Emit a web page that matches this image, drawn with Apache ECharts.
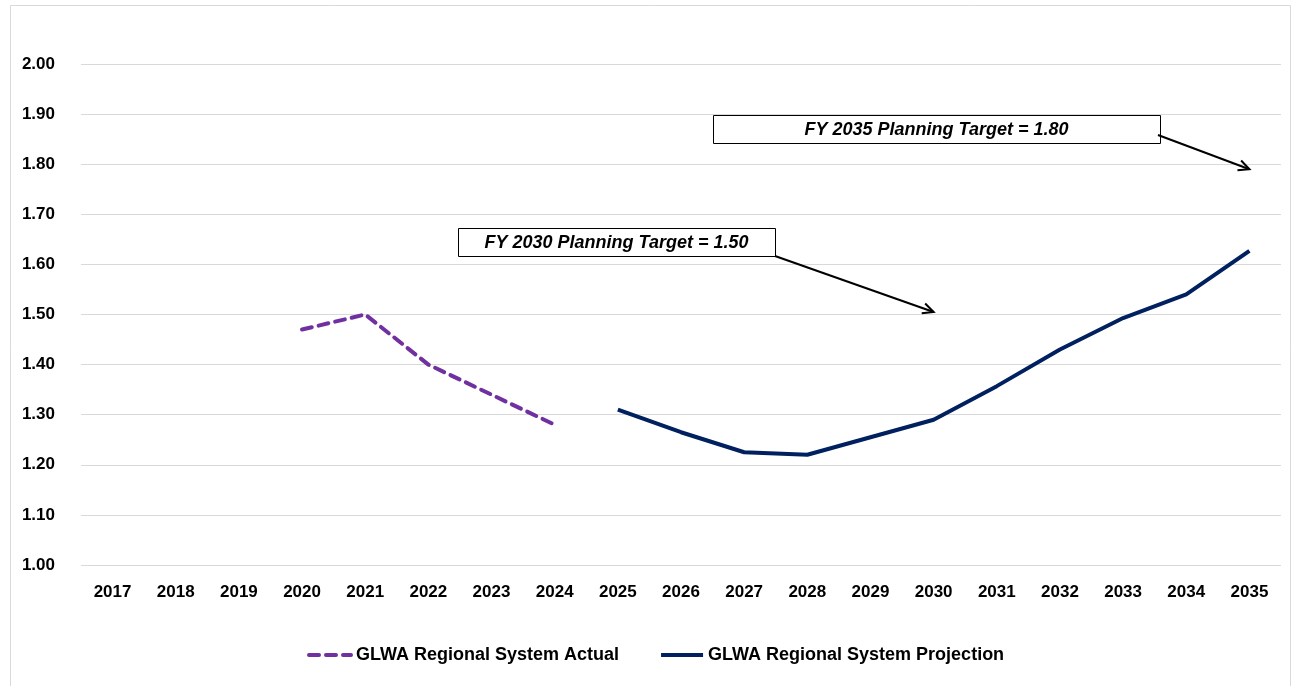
<!DOCTYPE html>
<html>
<head>
<meta charset="utf-8">
<script src="https://cdn.jsdelivr.net/npm/echarts@6/dist/echarts.min.js"></script>
<style>
  html, body { margin: 0; padding: 0; background: #fff; }
  #chart { width: 1293px; height: 686px; }
</style>
</head>
<body>
<div id="chart"></div>
<script>
// Fiscal years on the x axis
const years = ['2017', '2018', '2019', '2020', '2021', '2022', '2023', '2024', '2025', '2026',
               '2027', '2028', '2029', '2030', '2031', '2032', '2033', '2034', '2035'];

// Actual values (2020-2024), projection (2025-2035)
const actualValues = [null, null, null, 1.47, 1.50, 1.40, 1.34, 1.28,
                      null, null, null, null, null, null, null, null, null, null, null];
const projectionValues = [null, null, null, null, null, null, null, null,
                          1.31, 1.265, 1.225, 1.22, 1.255, 1.29, 1.357, 1.43, 1.493, 1.54, 1.627];

const seriesNames = ['GLWA Regional System Actual', 'GLWA Regional System Projection'];

// Callout notes: text and the point the arrow points to
const notes = [
  { text: 'FY 2030 Planning Target = 1.50', year: '2030', value: 1.505 },
  { text: 'FY 2035 Planning Target = 1.80', year: '2035', value: 1.79 }
];

const chartDom = document.getElementById('chart');
const chart = echarts.init(chartDom);

const fontName = 'Liberation Sans, Arial, sans-serif';
const labelFont = { color: '#000', fontWeight: 'bold', fontSize: 17, fontFamily: fontName };

const option = {
  animation: false,
  backgroundColor: '#fff',
  grid: { left: 81, right: 12, top: 64, bottom: 121 },
  legend: {
    bottom: 17,
    left: 302,
    itemWidth: 42,
    itemHeight: 14,
    itemGap: 40,
    itemStyle: { opacity: 0 },
    lineStyle: { width: 4 },
    textStyle: { color: '#000', fontWeight: 'bold', fontSize: 18, fontFamily: fontName },
    data: seriesNames
  },
  xAxis: {
    type: 'category',
    data: years,
    axisLine: { show: false },
    axisTick: { show: false },
    axisLabel: Object.assign({ margin: 19 }, labelFont)
  },
  yAxis: {
    type: 'value',
    min: 1,
    max: 2,
    interval: 0.1,
    axisLabel: Object.assign({ margin: 26, formatter: v => v.toFixed(2) }, labelFont),
    splitLine: { lineStyle: { color: '#d9d9d9', width: 1 } }
  },
  series: [
    {
      name: seriesNames[0],
      type: 'line',
      data: actualValues,
      symbol: 'none',
      color: '#7030a0',
      lineStyle: { color: '#7030a0', width: 4, type: [10, 7], cap: 'round' }
    },
    {
      name: seriesNames[1],
      type: 'line',
      data: projectionValues,
      symbol: 'none',
      color: '#002060',
      lineStyle: { color: '#002060', width: 4 }
    }
  ]
};

chart.setOption(option);

// Callout boxes and arrows, placed relative to the data they point at
const boxes = [
  { x: 458, y: 228, w: 317, h: 28 },
  { x: 713, y: 115, w: 447, h: 28 }
];

function buildNotes() {
  const elements = [
    // outer frame
    { type: 'rect', shape: { x: 10.5, y: 5.5, width: 1280, height: 690 },
      style: { fill: 'none', stroke: '#d9d9d9', lineWidth: 1 } }
  ];
  notes.forEach((note, i) => {
    const b = boxes[i];
    const tip = chart.convertToPixel({ seriesIndex: 1 }, [note.year, note.value]);
    const start = [b.x + b.w, b.y + b.h];
    if (i === 1) { start[1] = b.y + 20; start[0] = b.x + b.w - 2; }
    const ang = Math.atan2(tip[1] - start[1], tip[0] - start[0]);
    const head = 12;
    elements.push({
      type: 'rect', shape: { x: b.x + 0.5, y: b.y + 0.5, width: b.w, height: b.h },
      style: { fill: '#fff', stroke: '#000', lineWidth: 1 }
    });
    elements.push({
      type: 'text', x: b.x + b.w / 2, y: b.y + b.h / 2 + 1,
      style: { text: note.text, align: 'center', verticalAlign: 'middle', fill: '#000',
               font: 'italic bold 18px ' + fontName }
    });
    elements.push({
      type: 'polyline', shape: { points: [start, tip] },
      style: { stroke: '#000', lineWidth: 2 }
    });
    elements.push({
      type: 'polyline',
      shape: { points: [
        [tip[0] - head * Math.cos(ang - 0.45), tip[1] - head * Math.sin(ang - 0.45)],
        tip,
        [tip[0] - head * Math.cos(ang + 0.45), tip[1] - head * Math.sin(ang + 0.45)]
      ] },
      style: { stroke: '#000', lineWidth: 2, fill: null }
    });
  });
  chart.setOption({ graphic: { elements: elements } });
}
buildNotes();

window.addEventListener('resize', function () {
  chart.resize();
  buildNotes();
});
</script>
</body>
</html>
